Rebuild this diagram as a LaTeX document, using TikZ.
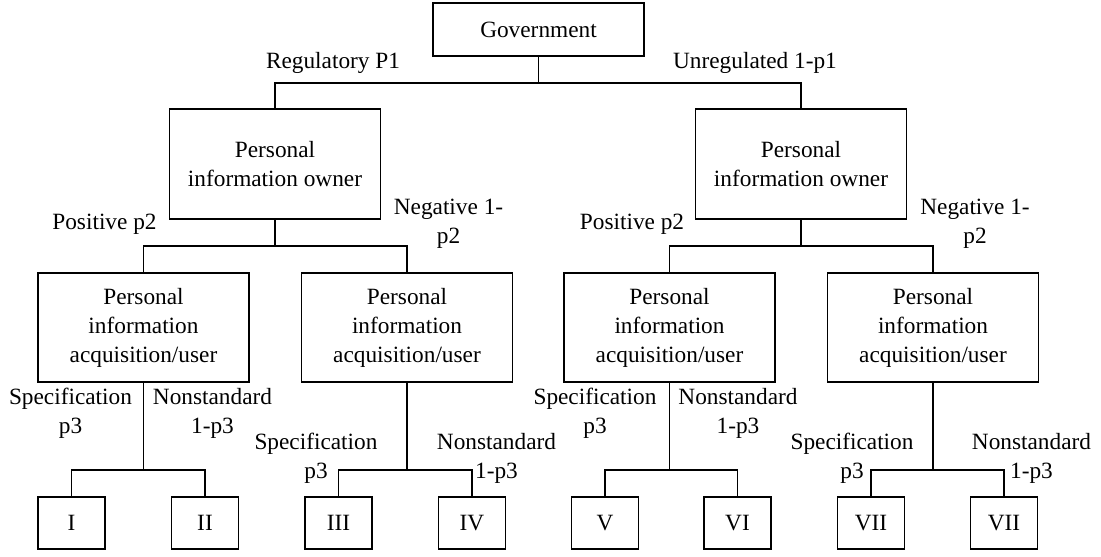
\documentclass[tikz,border=0pt]{standalone}
\usepackage{fontspec}
\setmainfont{Liberation Serif}
\usepackage{tikz}
\usetikzlibrary{positioning}
\tikzset{
  box/.style={rectangle, draw=black, line width=0.6pt, align=center,
    minimum width=105.5pt, inner sep=0pt, font=\fontsize{11.65}{14.5}\selectfont},
  leaf/.style={box, minimum width=33.5pt, minimum height=26pt},
  lbl/.style={align=center, inner sep=0pt, font=\fontsize{11.65}{14.5}\selectfont},
  link/.style={draw=black, line width=0.6pt}
}

\begin{document}
\begin{tikzpicture}[x=0.5pt, y=-0.5pt]
  \useasboundingbox (0,0) rectangle (1101,556);
  % top levels
  \node[box, minimum height=26.5pt] (gov) at (538.5,29.5) {Government};
  \node[box, minimum height=55pt] (ownL) at (275,164) {Personal\\information owner};
  \node[box, minimum height=55pt] (ownR) at (801,164) {Personal\\information owner};
  \node[box, minimum height=54.5pt] (acqA) at (143.5,327.5) {Personal\\information\\acquisition/user};
  \node[box, minimum height=54.5pt] (acqB) at (407,327.5) {Personal\\information\\acquisition/user};
  \node[box, minimum height=54.5pt] (acqC) at (669.5,327.5) {Personal\\information\\acquisition/user};
  \node[box, minimum height=54.5pt] (acqD) at (933,327.5) {Personal\\information\\acquisition/user};
  % outcomes
  \node[leaf] (r1) at (71.5,523) {I};
  \node[leaf] (r2) at (205,523) {II};
  \node[leaf] (r3) at (338.5,523) {III};
  \node[leaf] (r4) at (472,523) {IV};
  \node[leaf] (r5) at (605,523) {V};
  \node[leaf] (r6) at (737.5,523) {VI};
  \node[leaf] (r7) at (871,523) {VII};
  \node[leaf] (r8) at (1004,523) {VII};
  % branch labels
  \node[lbl] (reg) at (333,63) {Regulatory P1};
  \node[lbl] (unreg) at (755,63) {Unregulated 1-p1};
  \node[lbl] (posL) at (104.5,224) {Positive p2};
  \node[lbl] (negL) at (448.5,224) {Negative 1-\\p2};
  \node[lbl] (posR) at (632,224) {Positive p2};
  \node[lbl] (negR) at (975,224) {Negative 1-\\p2};
  \node[lbl] (specA) at (70.5,413.5) {Specification\\p3};
  \node[lbl] (nonA) at (212.5,413.5) {Nonstandard\\1-p3};
  \node[lbl] (specB) at (316,458) {Specification\\p3};
  \node[lbl] (nonB) at (496.5,458) {Nonstandard\\1-p3};
  \node[lbl] (specC) at (595,413.5) {Specification\\p3};
  \node[lbl] (nonC) at (738,413.5) {Nonstandard\\1-p3};
  \node[lbl] (specD) at (852,458) {Specification\\p3};
  \node[lbl] (nonD) at (1031.5,458) {Nonstandard\\1-p3};
  % junctions
  \coordinate (jGov) at (538.5,83);
  \coordinate (jL) at (275,246);
  \coordinate (jR) at (801,246);
  \coordinate (jA) at (143.5,470);
  \coordinate (jB) at (407,470);
  \coordinate (jC) at (669.5,470);
  \coordinate (jD) at (933,470);
  \draw[link] (gov.south) -- (jGov) -| (ownL.north);
  \draw[link] (jGov) -| (ownR.north);
  \draw[link] (ownL.south) -- (jL) -| (acqA.north);
  \draw[link] (jL) -| (acqB.north);
  \draw[link] (ownR.south) -- (jR) -| (acqC.north);
  \draw[link] (jR) -| (acqD.north);
  \draw[link] (acqA.south) -- (jA) -| (r1.north);
  \draw[link] (jA) -| (r2.north);
  \draw[link] (acqB.south) -- (jB) -| (r3.north);
  \draw[link] (jB) -| (r4.north);
  \draw[link] (acqC.south) -- (jC) -| (r5.north);
  \draw[link] (jC) -| (r6.north);
  \draw[link] (acqD.south) -- (jD) -| (r7.north);
  \draw[link] (jD) -| (r8.north);
\end{tikzpicture}
\end{document}
